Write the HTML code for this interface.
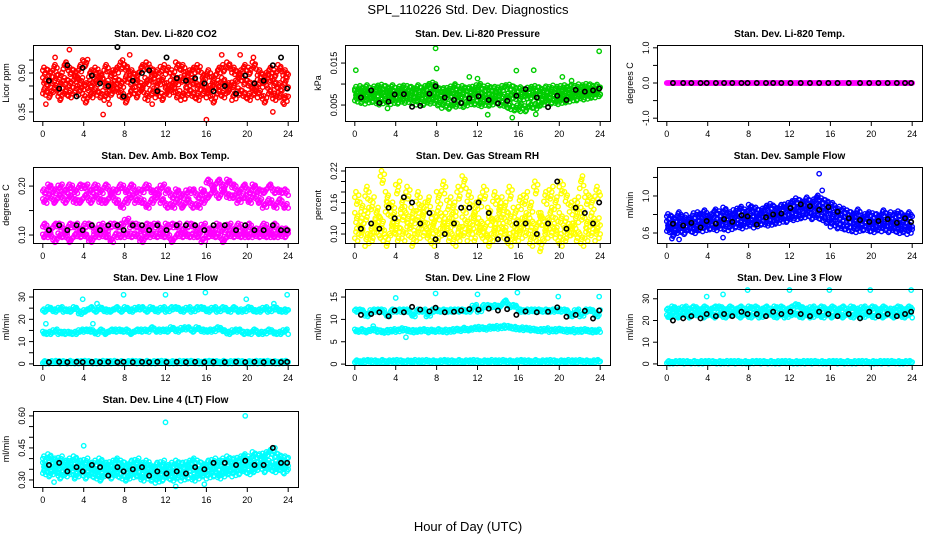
<!DOCTYPE html>
<html><head><meta charset="utf-8">
<style>
html,body{margin:0;padding:0;background:#fff;}
svg{display:block;font-family:"Liberation Sans",Arial,sans-serif;}
</style></head>
<body>
<svg id="chart" width="936" height="540" viewBox="0 0 936 540" xmlns="http://www.w3.org/2000/svg">
<rect width="936" height="540" fill="#fff"/>
<text x="468" y="14" font-size="13" text-anchor="middle">SPL_110226  Std. Dev. Diagnostics</text>
<text x="468" y="531" font-size="13" text-anchor="middle">Hour of Day (UTC)</text>
</svg>
<script>
const halfHours=[0,0.5,1,1.5,2,2.5,3,3.5,4,4.5,5,5.5,6,6.5,7,7.5,8,8.5,9,9.5,10,10.5,11,11.5,12,12.5,13,13.5,14,14.5,15,15.5,16,16.5,17,17.5,18,18.5,19,19.5,20,20.5,21,21.5,22,22.5,23,23.5,24];
const blackHours=[0.6,1.6,2.4,3.3,3.9,4.8,5.6,6.4,7.3,7.9,8.8,9.7,10.4,11.2,12.1,13.1,14.0,14.9,15.8,16.7,17.8,18.9,19.8,20.7,21.6,22.5,23.3,23.9];
const xTicks=[0,4,8,12,16,20,24];

// CO2
const co2Hi=[0.51,0.50,0.52,0.49,0.53,0.51,0.50,0.52,0.54,0.50,0.51,0.49,0.52,0.50,0.51,0.53,0.52,0.50,0.49,0.52,0.53,0.51,0.50,0.52,0.51,0.50,0.53,0.52,0.50,0.51,0.52,0.49,0.50,0.48,0.51,0.52,0.53,0.51,0.50,0.52,0.51,0.53,0.50,0.49,0.51,0.50,0.52,0.50,0.49];
const co2Mid=[0.47,0.46,0.48,0.45,0.47,0.46,0.48,0.47,0.45,0.46,0.47,0.48,0.46,0.45,0.47,0.46,0.48,0.47,0.46,0.45,0.47,0.48,0.46,0.47,0.45,0.46,0.47,0.48,0.46,0.47,0.45,0.46,0.44,0.45,0.46,0.47,0.45,0.46,0.48,0.47,0.46,0.45,0.47,0.46,0.48,0.46,0.45,0.47,0.46];
const co2Lo=[0.43,0.42,0.44,0.41,0.43,0.42,0.44,0.43,0.40,0.42,0.43,0.42,0.41,0.43,0.44,0.42,0.40,0.43,0.42,0.44,0.41,0.43,0.42,0.41,0.43,0.44,0.42,0.41,0.43,0.42,0.41,0.43,0.42,0.40,0.43,0.42,0.44,0.41,0.43,0.42,0.41,0.43,0.42,0.40,0.43,0.41,0.42,0.40,0.41];
const co2OutHours=[0.3,1.2,2.6,3.9,5.9,6.5,7.8,8.5,10.7,13.9,16.0,17.5,19.3,20.6,22.5,23.6];
const co2Out=[0.38,0.56,0.59,0.55,0.34,0.38,0.55,0.57,0.38,0.40,0.32,0.57,0.57,0.56,0.35,0.38];
const co2Black=[0.47,0.44,0.53,0.41,0.52,0.49,0.46,0.45,0.60,0.41,0.47,0.50,0.51,0.43,0.56,0.48,0.47,0.48,0.46,0.43,0.45,0.42,0.49,0.46,0.47,0.53,0.56,0.44];

// Pressure
const presHi=[0.0088,0.0090,0.0092,0.0089,0.0091,0.0093,0.0090,0.0092,0.0089,0.0091,0.0090,0.0088,0.0092,0.0090,0.0095,0.0098,0.0088,0.0085,0.0089,0.0091,0.0088,0.0090,0.0087,0.0092,0.0095,0.0089,0.0091,0.0088,0.0090,0.0092,0.0093,0.0089,0.0087,0.0086,0.0088,0.0090,0.0087,0.0089,0.0091,0.0088,0.0090,0.0092,0.0093,0.0094,0.0092,0.0095,0.0094,0.0093,0.0090];
const presMid=[0.0078,0.0076,0.0079,0.0075,0.0077,0.0078,0.0076,0.0077,0.0075,0.0078,0.0076,0.0077,0.0075,0.0074,0.0078,0.0077,0.0073,0.0072,0.0074,0.0071,0.0073,0.0074,0.0072,0.0075,0.0076,0.0073,0.0072,0.0074,0.0071,0.0070,0.0072,0.0071,0.0069,0.0070,0.0072,0.0074,0.0071,0.0073,0.0075,0.0074,0.0076,0.0077,0.0078,0.0079,0.0081,0.0082,0.0083,0.0084,0.0082];
const presLo=[0.0065,0.0062,0.0060,0.0064,0.0058,0.0061,0.0063,0.0059,0.0060,0.0062,0.0064,0.0061,0.0058,0.0057,0.0060,0.0062,0.0056,0.0050,0.0048,0.0053,0.0055,0.0052,0.0056,0.0058,0.0054,0.0057,0.0055,0.0058,0.0056,0.0052,0.0047,0.0044,0.0046,0.0042,0.0050,0.0048,0.0055,0.0058,0.0060,0.0059,0.0062,0.0063,0.0065,0.0068,0.0070,0.0072,0.0074,0.0075,0.0076];
const presOutHours=[0.1,3.2,7.9,8.0,9.8,11.2,12.0,13.0,15.4,15.8,16.2,17.5,17.7,20.3,21.2,23.9];
const presOut=[0.0133,0.0042,0.0185,0.0137,0.0100,0.0117,0.0113,0.0027,0.0020,0.0132,0.0035,0.0133,0.0028,0.0117,0.0108,0.0178];
const presBlack=[0.0068,0.0085,0.0055,0.0058,0.0075,0.0076,0.0046,0.0048,0.0077,0.0095,0.0068,0.0062,0.0055,0.0066,0.0071,0.0062,0.0054,0.0060,0.0072,0.0088,0.0068,0.0045,0.0072,0.0062,0.0086,0.0082,0.0085,0.0089];

// Temp
const tempVals=[0,0,0,0,0,0,0,0,0,0,0,0,0,0,0,0,0,0,0,0,0,0,0,0,0,0,0,0,0,0,0,0,0,0,0,0,0,0,0,0,0,0,0,0,0,0,0,0,0];
const tempBlack=[0,0,0,0,0,0,0,0,0,0,0,0,0,0,0,0,0,0,0,0,0,0,0,0,0,0,0,0];

// Amb box temp
const ambHi=[0.19,0.20,0.19,0.20,0.19,0.20,0.19,0.20,0.20,0.19,0.20,0.19,0.20,0.19,0.19,0.20,0.19,0.20,0.19,0.19,0.20,0.19,0.19,0.20,0.19,0.18,0.19,0.18,0.19,0.19,0.18,0.19,0.21,0.20,0.21,0.20,0.21,0.20,0.19,0.20,0.19,0.20,0.19,0.19,0.20,0.19,0.19,0.19,0.18];
const ambMid=[0.17,0.18,0.17,0.18,0.17,0.18,0.17,0.17,0.18,0.17,0.18,0.17,0.17,0.18,0.17,0.16,0.17,0.18,0.17,0.17,0.16,0.17,0.18,0.17,0.16,0.16,0.17,0.16,0.17,0.16,0.16,0.17,0.18,0.19,0.18,0.19,0.18,0.18,0.17,0.18,0.17,0.18,0.17,0.16,0.17,0.16,0.17,0.16,0.16];
const ambLo=[0.12,0.11,0.12,0.12,0.11,0.12,0.12,0.11,0.12,0.12,0.11,0.12,0.11,0.12,0.12,0.12,0.13,0.12,0.12,0.11,0.12,0.12,0.12,0.11,0.12,0.12,0.12,0.11,0.12,0.12,0.11,0.12,0.11,0.11,0.12,0.11,0.12,0.11,0.12,0.11,0.12,0.11,0.11,0.12,0.11,0.12,0.11,0.11,0.11];
const ambLo2=[0.10,0.10,0.09,0.10,0.10,0.09,0.10,0.10,0.10,0.09,0.10,0.10,0.10,0.09,0.10,0.10,0.10,0.10,0.10,0.09,0.10,0.10,0.10,0.10,0.10,0.09,0.10,0.10,0.10,0.10,0.10,0.09,0.10,0.10,0.10,0.09,0.10,0.10,0.10,0.10,0.10,0.10,0.10,0.10,0.10,0.10,0.10,0.10,0.10];
const ambBlack=[0.11,0.12,0.11,0.12,0.11,0.12,0.11,0.12,0.12,0.11,0.12,0.12,0.11,0.12,0.11,0.12,0.12,0.12,0.11,0.12,0.12,0.11,0.12,0.11,0.11,0.12,0.11,0.11];

// Gas stream RH
const rhHi=[0.17,0.15,0.18,0.16,0.14,0.21,0.17,0.15,0.19,0.16,0.18,0.14,0.17,0.15,0.16,0.13,0.17,0.19,0.16,0.15,0.18,0.20,0.17,0.15,0.16,0.18,0.14,0.17,0.16,0.15,0.18,0.14,0.16,0.17,0.15,0.19,0.13,0.17,0.18,0.16,0.19,0.17,0.15,0.16,0.20,0.17,0.16,0.18,0.17];
const rhMid=[0.13,0.12,0.14,0.11,0.13,0.12,0.15,0.13,0.12,0.14,0.13,0.12,0.14,0.13,0.11,0.12,0.14,0.13,0.12,0.13,0.11,0.14,0.12,0.13,0.12,0.11,0.13,0.12,0.14,0.12,0.13,0.11,0.12,0.13,0.12,0.11,0.13,0.12,0.14,0.12,0.13,0.12,0.11,0.13,0.14,0.12,0.13,0.12,0.13];
const rhLo=[0.10,0.11,0.09,0.10,0.11,0.10,0.09,0.11,0.10,0.10,0.11,0.09,0.10,0.11,0.10,0.09,0.10,0.11,0.10,0.09,0.10,0.11,0.10,0.10,0.11,0.10,0.09,0.10,0.11,0.10,0.09,0.10,0.10,0.11,0.09,0.10,0.08,0.10,0.11,0.10,0.09,0.10,0.11,0.10,0.09,0.10,0.11,0.10,0.10];
const rhBlack=[0.11,0.12,0.11,0.15,0.13,0.17,0.16,0.12,0.14,0.09,0.10,0.12,0.15,0.15,0.16,0.14,0.09,0.09,0.12,0.12,0.10,0.12,0.20,0.11,0.15,0.14,0.12,0.16];

// Sample flow
const sfHi=[0.78,0.75,0.80,0.77,0.74,0.79,0.80,0.82,0.78,0.83,0.81,0.85,0.80,0.84,0.86,0.83,0.88,0.85,0.84,0.87,0.89,0.86,0.88,0.90,0.92,0.95,0.93,0.96,0.94,0.98,0.95,0.93,0.90,0.86,0.84,0.82,0.80,0.83,0.78,0.80,0.79,0.78,0.82,0.80,0.79,0.81,0.78,0.80,0.77];
const sfMid=[0.70,0.68,0.71,0.69,0.72,0.70,0.71,0.73,0.72,0.74,0.73,0.75,0.74,0.76,0.75,0.77,0.78,0.76,0.79,0.78,0.80,0.79,0.81,0.82,0.84,0.86,0.87,0.88,0.86,0.89,0.87,0.84,0.80,0.77,0.76,0.75,0.74,0.72,0.73,0.72,0.71,0.73,0.72,0.71,0.72,0.70,0.71,0.69,0.70];
const sfLo=[0.64,0.60,0.63,0.62,0.65,0.63,0.66,0.65,0.67,0.66,0.68,0.67,0.66,0.69,0.68,0.70,0.71,0.69,0.72,0.71,0.72,0.73,0.74,0.75,0.77,0.78,0.79,0.80,0.78,0.79,0.77,0.74,0.70,0.68,0.67,0.66,0.65,0.64,0.66,0.65,0.64,0.66,0.65,0.64,0.65,0.63,0.64,0.62,0.64];
const sfBlack=[0.70,0.68,0.71,0.66,0.73,0.70,0.75,0.72,0.79,0.78,0.69,0.77,0.80,0.81,0.87,0.91,0.89,0.85,0.88,0.83,0.76,0.74,0.72,0.73,0.75,0.71,0.76,0.72];

// Line 1
const l1Hi=[24,25,24,25,24,24,25,23,24,25,24,25,24,24,25,24,25,24,25,25,24,25,24,25,24,25,25,24,25,24,25,25,24,25,24,25,24,25,24,24,25,24,24,25,24,25,24,24,24];
const l1Mid=[14,14,15,14,14,14,14,15,15,15,14,15,14,15,15,15,15,14,15,15,15,16,15,15,15,16,15,16,16,15,16,15,15,15,16,15,14,15,15,14,14,15,14,14,15,14,14,15,14];
const l1Lo=[0.8,0.8,0.9,0.8,0.8,0.9,0.8,0.8,0.9,0.8,0.8,0.9,0.8,0.8,0.9,0.8,0.8,0.9,0.8,0.8,0.9,0.8,0.8,0.9,0.8,0.8,0.9,0.8,0.8,0.9,0.8,0.8,0.9,0.8,0.8,0.9,0.8,0.8,0.9,0.8,0.8,0.9,0.8,0.8,0.9,0.8,0.8,0.9,0.8];
const l1OutHours=[0.3,3.9,4.9,5.3,7.9,12.0,15.9,19.9,22.6,23.9];
const l1Out=[18,29,18,27,31,31,32,29,27,31];
const l1Black=[0.8,0.9,0.8,0.9,0.8,0.9,0.8,0.9,0.8,0.9,0.8,0.9,0.8,0.9,0.8,0.9,0.8,0.9,0.8,0.9,0.8,0.9,0.8,0.9,0.8,0.9,0.8,0.9];

// Line 2
const l2Hi=[12,12,11,12,12,12,11,12,12,12,12,11,12,12,11,12,12,12,12,12,12,12,12,13,12,13,13,13,13,14,13,13,12,12,12,12,12,12,12,12,12,12,11,12,11,12,12,11,12];
const l2Mid=[7.5,7.6,7.4,7.7,7.5,7.3,7.4,7.6,7.5,7.8,7.6,7.4,7.5,7.6,7.4,7.5,7.6,7.5,7.4,7.6,7.7,7.9,7.8,8.0,8.1,8.0,8.2,8.3,8.2,8.4,8.3,8.1,8.0,7.9,7.8,7.7,7.6,7.8,7.5,7.6,7.7,7.5,7.6,7.4,7.5,7.6,7.4,7.5,7.5];
const l2Lo=[0.6,0.6,0.7,0.6,0.6,0.7,0.6,0.6,0.7,0.6,0.6,0.7,0.6,0.6,0.7,0.6,0.6,0.7,0.6,0.6,0.7,0.6,0.6,0.7,0.6,0.6,0.7,0.6,0.6,0.7,0.6,0.6,0.7,0.6,0.6,0.7,0.6,0.6,0.7,0.6,0.6,0.7,0.6,0.6,0.7,0.6,0.6,0.7,0.6];
const l2OutHours=[1.8,4.0,5.0,7.9,12.0,15.9,19.9,23.9];
const l2Out=[8.5,14.8,6.0,15.8,15.6,16.0,15.1,15.1];
const l2Black=[11.0,11.2,11.6,10.7,12.0,11.6,12.8,12.2,11.8,12.6,11.6,11.7,12.0,12.3,12.2,12.4,12.0,12.3,11.0,11.8,11.6,11.7,12.7,10.6,11.0,11.9,10.2,12.0];

// Line 3
const l3Hi=[25,26,25,26,25,26,25,26,25,26,26,25,26,25,26,25,26,26,25,26,25,26,26,25,26,27,26,25,26,25,26,25,26,25,26,25,26,25,26,25,26,25,26,25,25,26,25,26,25];
const l3Mid=[22,23,22,23,22,23,23,22,23,22,23,22,23,23,22,23,22,23,22,23,23,22,23,22,23,23,22,23,22,23,22,23,22,23,22,23,22,23,22,23,22,23,22,23,22,23,22,23,22];
const l3Lo=[0.8,0.8,0.9,0.8,0.8,0.9,0.8,0.8,0.9,0.8,0.8,0.9,0.8,0.8,0.9,0.8,0.8,0.9,0.8,0.8,0.9,0.8,0.8,0.9,0.8,0.8,0.9,0.8,0.8,0.9,0.8,0.8,0.9,0.8,0.8,0.9,0.8,0.8,0.9,0.8,0.8,0.9,0.8,0.8,0.9,0.8,0.8,0.9,0.8];
const l3OutHours=[3.9,5.5,7.9,12.0,15.9,19.9,23.9];
const l3Out=[31,32,34,34,34,34,34];
const l3Black=[20,21,22,21,23,22,23,22,24,23,23,22,24,23,24,23,22,24,23,22,23,21,24,22,23,22,23,24];

// Line 4
const l4Hi=[0.40,0.41,0.39,0.40,0.38,0.39,0.40,0.38,0.39,0.37,0.38,0.39,0.37,0.38,0.39,0.38,0.37,0.38,0.39,0.37,0.38,0.36,0.37,0.38,0.36,0.37,0.38,0.37,0.38,0.39,0.38,0.37,0.38,0.39,0.38,0.39,0.40,0.39,0.40,0.41,0.40,0.42,0.41,0.42,0.43,0.42,0.41,0.40,0.40];
const l4Mid=[0.37,0.36,0.37,0.35,0.36,0.37,0.35,0.36,0.35,0.36,0.34,0.35,0.36,0.34,0.35,0.36,0.35,0.34,0.35,0.34,0.35,0.34,0.33,0.34,0.35,0.34,0.35,0.34,0.35,0.36,0.34,0.35,0.36,0.35,0.36,0.35,0.36,0.37,0.36,0.37,0.38,0.37,0.38,0.39,0.38,0.37,0.38,0.37,0.38];
const l4Lo=[0.34,0.33,0.34,0.32,0.33,0.34,0.32,0.33,0.32,0.33,0.32,0.31,0.33,0.32,0.33,0.32,0.31,0.32,0.33,0.31,0.32,0.31,0.30,0.31,0.32,0.31,0.32,0.31,0.32,0.31,0.32,0.33,0.32,0.33,0.32,0.33,0.34,0.33,0.34,0.35,0.34,0.35,0.36,0.35,0.36,0.35,0.36,0.35,0.35];
const l4OutHours=[1.1,4.0,12.0,13.0,15.8,19.8,22.7,23.6];
const l4Out=[0.29,0.46,0.57,0.27,0.28,0.60,0.45,0.33];
const l4Black=[0.37,0.38,0.34,0.36,0.34,0.37,0.36,0.32,0.36,0.34,0.35,0.36,0.32,0.34,0.33,0.34,0.33,0.36,0.35,0.38,0.38,0.37,0.39,0.37,0.37,0.45,0.38,0.38];

const panels=[
 {name:'co2',title:'Stan. Dev. Li-820 CO2',ylab:'Licor ppm',col:0,row:0,color:'#ff0000',dom:[0.315,0.608],ticks:[0.35,0.40,0.45,0.50,0.55],labels:[0.35,0.50],dec:2,rows:[co2Hi,co2Mid,co2Lo],outH:co2OutHours,out:co2Out,black:co2Black,spread:0.05},
 {name:'pressure',title:'Stan. Dev. Li-820 Pressure',ylab:'kPa',col:1,row:0,color:'#00cd00',dom:[0.0012,0.0193],ticks:[0.005,0.010,0.015],labels:[0.005,0.015],dec:3,rows:[presHi,presMid,presLo],outH:presOutHours,out:presOut,black:presBlack,spread:0.04},
 {name:'temp',title:'Stan. Dev. Li-820 Temp.',ylab:'degrees C',col:2,row:0,color:'#ff00ff',dom:[-1.08,1.08],ticks:[-1,-0.5,0,0.5,1],labels:[-1,0,1],dec:1,rows:[tempVals],outH:[],out:[],black:tempBlack,spread:0},
 {name:'amb-box-temp',title:'Stan. Dev. Amb. Box Temp.',ylab:'degrees C',col:0,row:1,color:'#ff00ff',dom:[0.0837,0.239],ticks:[0.10,0.15,0.20],labels:[0.10,0.20],dec:2,rows:[ambHi,ambMid,ambLo,ambLo2],outH:[],out:[],black:ambBlack,spread:0.03},
 {name:'gas-stream-rh',title:'Stan. Dev. Gas Stream RH',ylab:'percent',col:1,row:1,color:'#ffff00',dom:[0.0829,0.2276],ticks:[0.10,0.12,0.14,0.16,0.18,0.20,0.22],labels:[0.10,0.16,0.22],dec:2,rows:[rhHi,rhMid,rhLo],outH:[],out:[],black:rhBlack,spread:0.09},
 {name:'sample-flow',title:'Stan. Dev. Sample Flow',ylab:'ml/min',col:2,row:1,color:'#0000ff',dom:[0.492,1.313],ticks:[0.6,0.8,1.0,1.2],labels:[0.6,1.0],dec:1,rows:[sfHi,sfMid,sfLo],outH:[14.9,15.2,5.5,0.5,1.2],out:[1.24,1.06,0.55,0.54,0.53],black:sfBlack,spread:0.04},
 {name:'line1-flow',title:'Stan. Dev. Line 1 Flow',ylab:'ml/min',col:0,row:2,color:'#00ffff',dom:[-0.5,33.6],ticks:[0,5,10,15,20,25,30],labels:[0,10,20,30],dec:0,rows:[l1Hi,l1Mid,l1Lo],outH:l1OutHours,out:l1Out,black:l1Black,spread:0.02},
 {name:'line2-flow',title:'Stan. Dev. Line 2 Flow',ylab:'ml/min',col:1,row:2,color:'#00ffff',dom:[-0.2,16.8],ticks:[0,5,10,15],labels:[0,5,10,15],dec:0,rows:[l2Hi,l2Mid,l2Lo],outH:l2OutHours,out:l2Out,black:l2Black,spread:0.02},
 {name:'line3-flow',title:'Stan. Dev. Line 3 Flow',ylab:'ml/min',col:2,row:2,color:'#00ffff',dom:[-0.5,34.5],ticks:[0,10,20,30],labels:[0,10,20,30],dec:0,rows:[l3Hi,l3Mid,l3Lo],outH:l3OutHours,out:l3Out,black:l3Black,spread:0.02},
 {name:'line4-flow',title:'Stan. Dev. Line 4 (LT) Flow',ylab:'ml/min',col:0,row:3,color:'#00ffff',dom:[0.267,0.623],ticks:[0.30,0.35,0.40,0.45,0.50,0.55,0.60],labels:[0.30,0.45,0.60],dec:2,rows:[l4Hi,l4Mid,l4Lo],outH:l4OutHours,out:l4Out,black:l4Black,spread:0.04}
];

const NS='http://www.w3.org/2000/svg';
const svg=document.getElementById('chart');
const colLeft=[33,345,657], rowTop=[45,167,289,411], W=265, H=76;
// rendering scatter offsets (style only)
const dxPat=[0,0.11,0.27,0.38,0.19];
const dyPat=[0,0.8,-0.6,0.3,-1.0];
function mk(tag,attrs,parent){const e=document.createElementNS(NS,tag);for(const k in attrs)e.setAttribute(k,attrs[k]);parent.appendChild(e);return e;}

panels.forEach(p=>{
  const L=colLeft[p.col], T=rowTop[p.row];
  const g=mk('g',{},svg);
  
  
  const xs=h=>L+(h+0.96)/25.92*W;
  const ys=v=>T+H-(v-p.dom[0])/(p.dom[1]-p.dom[0])*H;
  const t=mk('text',{x:L+W/2,y:T-8,'font-size':10,'font-weight':'bold','text-anchor':'middle'},g);
  t.textContent=p.title;
  
  
  const yl=mk('text',{x:0,y:0,'font-size':9,'text-anchor':'middle',transform:`translate(${L-24},${T+H/2}) rotate(-90)`},g);
  yl.textContent=p.ylab;
  
  
  const pts=mk('g',{fill:'none','stroke-width':1.4},g);
  
  
  const rng=p.dom[1]-p.dom[0];
  p.rows.forEach((arr,ri)=>{
    arr.forEach((v,i)=>{
      for(let k=0;k<5;k++){
        const h=halfHours[i]+dxPat[(k+ri)%5];
        if(h>24.1) continue;
        const dy=dyPat[(k+i+ri*2)%5]*rng*p.spread;
        const c=mk('circle',{cx:xs(h),cy:ys(v+dy),r:2.2,stroke:p.color},pts);
        
        
      }
    });
  });
  p.out.forEach((v,i)=>{
    const c=mk('circle',{cx:xs(p.outH[i]),cy:ys(v),r:2.2,stroke:p.color},pts);
    
    
  });
  p.black.forEach((v,i)=>{
    const c=mk('circle',{cx:xs(blackHours[i]),cy:ys(v),r:2.2,stroke:'#000','stroke-width':1.6},pts);
    
    
  });
  const b=mk('rect',{x:L+0.5,y:T+0.5,width:W,height:H,fill:'none',stroke:'#000','stroke-width':1},g);
  
  
  const xa=mk('g',{},g);
  
  
  mk('line',{x1:xs(0),x2:xs(24),y1:T+H+0.5,y2:T+H+0.5,stroke:'#000'},xa);
  xTicks.forEach(h=>{
    mk('line',{x1:xs(h),x2:xs(h),y1:T+H,y2:T+H+5,stroke:'#000'},xa);
    const tx=mk('text',{x:xs(h),y:T+H+16,'font-size':9,'text-anchor':'middle'},xa);
    tx.textContent=h;
    
    
  });
  const ya=mk('g',{},g);
  
  
  mk('line',{x1:L+0.5,x2:L+0.5,y1:ys(p.ticks[0]),y2:ys(p.ticks[p.ticks.length-1]),stroke:'#000'},ya);
  p.ticks.forEach(v=>{
    mk('line',{x1:L-4,x2:L,y1:ys(v),y2:ys(v),stroke:'#000'},ya);
  });
  p.labels.forEach(v=>{
    const tx=mk('text',{x:0,y:0,'font-size':9,'text-anchor':'middle',transform:`translate(${L-8},${ys(v)}) rotate(-90)`},ya);
    tx.textContent=v.toFixed(p.dec);
    
    
  });
});
</script>
</body></html>
